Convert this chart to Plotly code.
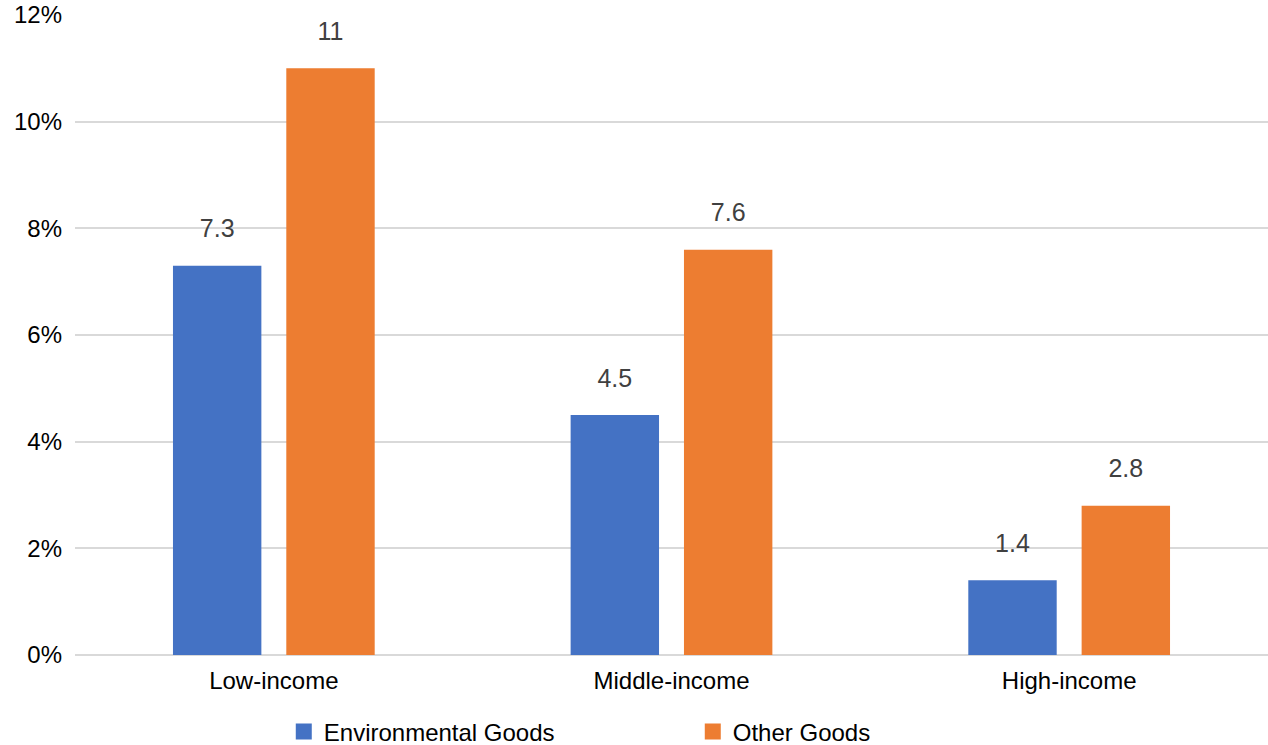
import plotly.graph_objects as go

categories = ["Low-income", "Middle-income", "High-income"]
env_goods = [7.3, 4.5, 1.4]
other_goods = [11, 7.6, 2.8]
tick_vals = [0, 2, 4, 6, 8, 10, 12]
tick_text = ["0%", "2%", "4%", "6%", "8%", "10%", "12%"]

FONT = "Liberation Sans, Arial, Helvetica, sans-serif"
BLUE = "#4472C4"
ORANGE = "#ED7D31"

series = [("Environmental Goods", env_goods, BLUE, "env"),
          ("Other Goods", other_goods, ORANGE, "oth")]

fig = go.Figure()
for name, vals, color, grp in series:
    fig.add_trace(go.Bar(
        name=name, x=categories, y=vals,
        marker=dict(color=color, line=dict(width=0)),
        offsetgroup=grp, showlegend=False,
    ))
for name, vals, color, grp in series:
    fig.add_trace(go.Scatter(
        x=categories, y=vals, mode="markers+text",
        text=[f"{v:g}" for v in vals], textposition="top center",
        textfont=dict(size=25, color="#404040", family=FONT),
        marker=dict(size=34, opacity=0),
        offsetgroup=grp, showlegend=False, hoverinfo="skip",
        cliponaxis=False,
    ))
# legend entries (square swatches)
for name, vals, color, grp in series:
    fig.add_trace(go.Scatter(
        x=[None], y=[None], mode="markers", name=name,
        marker=dict(symbol="square", size=16, color=color),
        offsetgroup=grp, showlegend=True, hoverinfo="skip",
    ))

fig.update_layout(
    width=1268, height=745,
    margin=dict(l=75, r=0, t=15, b=90, autoexpand=False),
    paper_bgcolor="white", plot_bgcolor="white",
    barmode="group", bargap=0.43, bargroupgap=0.22,
    scattermode="group", scattergap=0.43,
    font=dict(family=FONT, size=24, color="#000000"),
    showlegend=True,
    legend=dict(orientation="h", x=0.175, xanchor="left", y=-0.12, yanchor="middle",
                font=dict(size=24, color="#000000"), entrywidth=364, entrywidthmode="pixels",
                itemsizing="trace"),
)
fig.update_yaxes(range=[0, 12], tickvals=tick_vals, ticktext=tick_text,
                 showgrid=True, gridcolor="#D9D9D9", gridwidth=2,
                 zeroline=True, zerolinecolor="#D9D9D9", zerolinewidth=2,
                 showline=False, ticks="", ticklabelstandoff=12,
                 tickfont=dict(size=24, color="#000000"))
fig.update_xaxes(showgrid=False, showline=False, ticks="", ticklabelstandoff=9,
                 tickfont=dict(size=24, color="#000000"))

fig.write_html("out.html")
